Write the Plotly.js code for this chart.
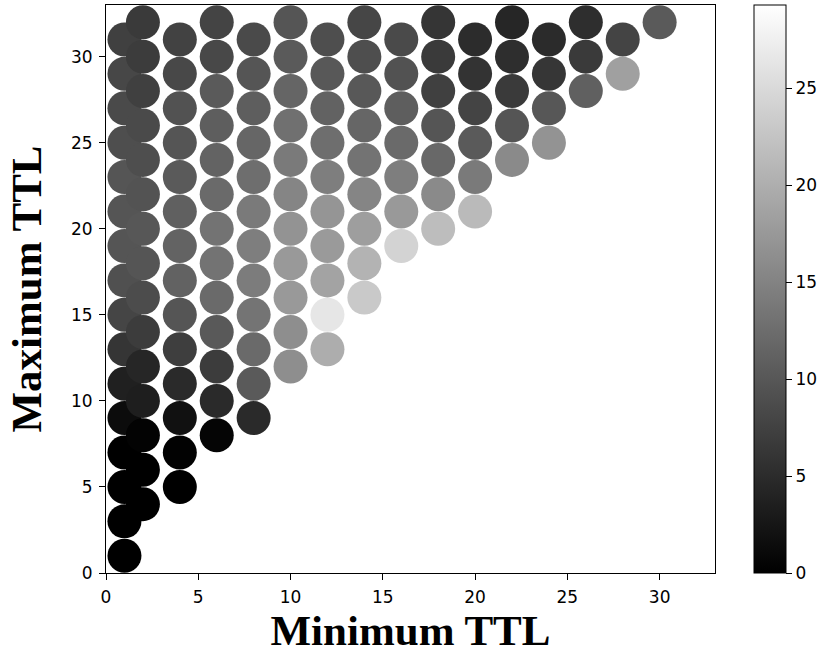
<!DOCTYPE html>
<html>
<head>
<meta charset="utf-8">
<script src="https://cdn.plot.ly/plotly-3.0.1.min.js"></script>
<style>
html,body{margin:0;padding:0;background:#fff;}
#chart{width:824px;height:655px;}
</style>
</head>
<body>
<div id="chart"></div>
<script>
// Minimum TTL (x), Maximum TTL (y), colour value
const minTTL = [
  1,1,1,1,1,1,1,1,1,1,1,1,1,1,1,1,
  2,2,2,2,2,2,2,2,2,2,2,2,2,2,2,
  4,4,4,4,4,4,4,4,4,4,4,4,4,4,
  6,6,6,6,6,6,6,6,6,6,6,6,6,
  8,8,8,8,8,8,8,8,8,8,8,8,
  10,10,10,10,10,10,10,10,10,10,10,
  12,12,12,12,12,12,12,12,12,12,
  14,14,14,14,14,14,14,14,14,
  16,16,16,16,16,16,16,
  18,18,18,18,18,18,18,
  20,20,20,20,20,20,
  22,22,22,22,22,
  24,24,24,24,
  26,26,26,
  28,28,
  30
];
const maxTTL = [
  1,3,5,7,9,11,13,15,17,19,21,23,25,27,29,31,
  4,6,8,10,12,14,16,18,20,22,24,26,28,30,32,
  5,7,9,11,13,15,17,19,21,23,25,27,29,31,
  8,10,12,14,16,18,20,22,24,26,28,30,32,
  9,11,13,15,17,19,21,23,25,27,29,31,
  12,14,16,18,20,22,24,26,28,30,32,
  13,15,17,19,21,23,25,27,29,31,
  16,18,20,22,24,26,28,30,32,
  19,21,23,25,27,29,31,
  20,22,24,26,28,30,32,
  21,23,25,27,29,31,
  24,26,28,30,32,
  25,27,29,31,
  28,30,32,
  29,31,
  32
];
const values = [
  0,0,0,0,1.4,3.7,6.1,7.9,9.2,9.8,9.8,9.8,9.0,8.5,8.2,7.4,
  0,0,0.3,3.4,4.4,6.9,8.7,9.8,10.0,9.5,9.0,8.5,7.4,6.9,6.7,
  0,0.2,2.0,4.8,7.1,9.8,11.3,11.4,11.0,10.3,9.8,9.4,8.3,7.6,
  0.6,4.8,6.9,10.2,12.2,13.2,13.2,12.2,11.4,10.8,10.3,8.3,7.8,
  4.8,10.3,12.2,13.3,14.2,14.5,14.0,12.6,11.7,10.8,9.8,8.5,
  16.3,16.3,17.6,17.6,16.9,15.3,14.0,12.9,11.6,10.3,9.8,
  19.9,26.4,18.7,17.7,17.1,14.5,12.6,11.3,10.1,9.0,
  23.1,20.6,18.2,15.3,13.2,11.7,10.1,9.0,8.0,
  24.2,17.6,14.5,12.2,10.8,9.4,8.5,
  21.7,15.9,12.0,9.8,7.4,6.7,6.1,
  21.4,14.0,10.3,7.8,5.9,5.1,
  15.9,9.8,6.7,5.3,4.4,
  16.9,10.0,6.2,4.9,
  11.0,6.7,5.3,
  18.4,7.8,
  10.3
];
const colorMin = 0, colorMax = 29.3;
const tickVals = [0,5,10,15,20,25,30];
const cbTickVals = [0,5,10,15,20,25];

const tickFont = {family: 'DejaVu Sans', size: 17, color: '#000'};
const titleFont = {family: 'Liberation Serif', size: 43, color: '#000', weight: 'bold'};

const trace = {
  type: 'scatter',
  mode: 'markers',
  x: minTTL,
  y: maxTTL,
  marker: {
    size: 34,
    color: values,
    cmin: colorMin,
    cmax: colorMax,
    colorscale: [[0, 'rgb(0,0,0)'], [1, 'rgb(255,255,255)']],
    line: {width: 0},
    opacity: 1,
    showscale: true,
    colorbar: {
      x: 1.064, xanchor: 'left', xref: 'paper',
      y: 0.5, yanchor: 'middle',
      len: 1, lenmode: 'fraction',
      thickness: 32, thicknessmode: 'pixels',
      xpad: 0, ypad: 0,
      outlinewidth: 1, outlinecolor: '#000',
      tickvals: cbTickVals,
      ticks: 'outside', ticklen: 6, tickwidth: 1, tickcolor: '#000',
      tickfont: tickFont
    }
  },
  hoverinfo: 'x+y'
};

const axisCommon = {
  range: [0, 33],
  tickvals: tickVals,
  ticks: 'outside', ticklen: 6, tickwidth: 1, tickcolor: '#000',
  showline: true, linecolor: '#000', linewidth: 1, mirror: true,
  showgrid: false, zeroline: false,
  tickfont: tickFont,
  ticklabelstandoff: 3
};

const layout = {
  width: 824, height: 655,
  margin: {l: 106, r: 109, t: 5, b: 82},
  paper_bgcolor: '#fff', plot_bgcolor: '#fff',
  showlegend: false,
  xaxis: Object.assign({}, axisCommon, {
    title: {text: 'Minimum TTL', font: titleFont, standoff: 3}
  }),
  yaxis: Object.assign({}, axisCommon, {
    title: {text: 'Maximum TTL', font: titleFont, standoff: 15}
  })
};

Plotly.newPlot('chart', [trace], layout, {displayModeBar: false, staticPlot: true});
</script>
</body>
</html>
